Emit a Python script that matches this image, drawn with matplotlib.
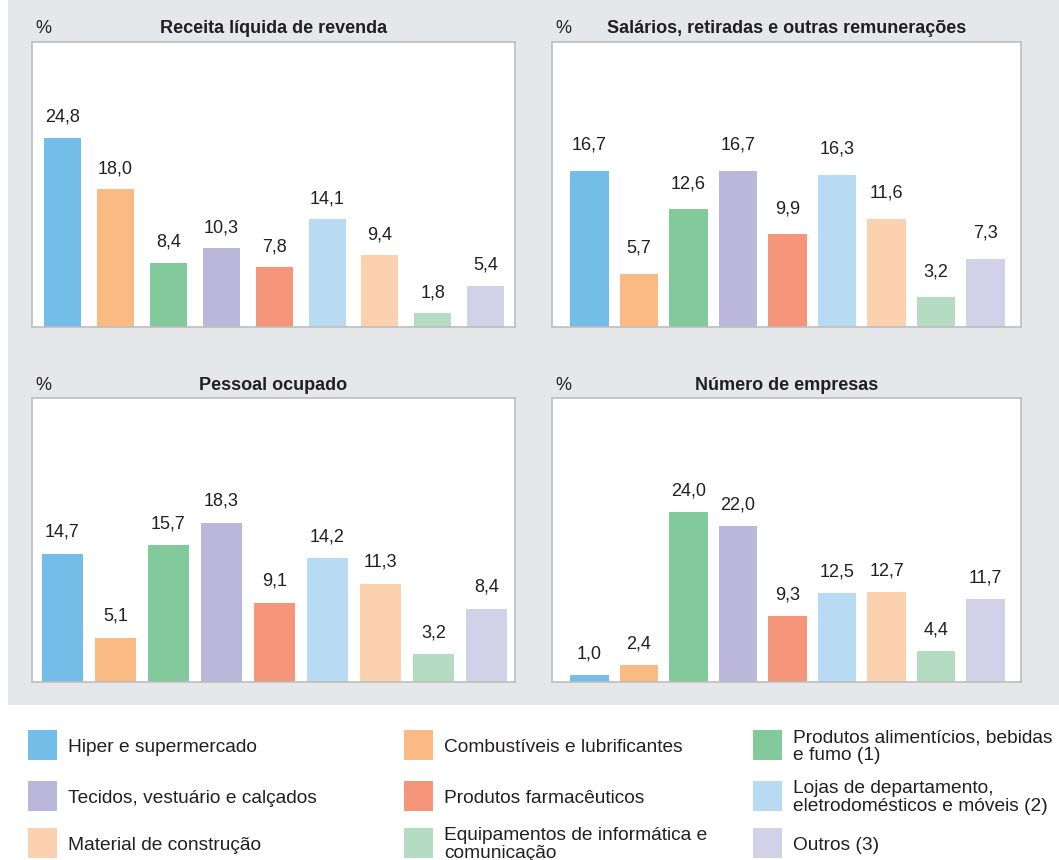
import matplotlib
matplotlib.use("Agg")
import matplotlib.pyplot as plt
from matplotlib.patches import Rectangle

plt.rcParams['font.family'] = ['Liberation Sans', 'DejaVu Sans']

# ---------------- data ----------------
categories = [
    "Hiper e supermercado",
    "Combustíveis e lubrificantes",
    "Produtos alimentícios, bebidas\ne fumo (1)",
    "Tecidos, vestuário e calçados",
    "Produtos farmacêuticos",
    "Lojas de departamento,\neletrodomésticos e móveis (2)",
    "Material de construção",
    "Equipamentos de informática e\ncomunicação",
    "Outros (3)",
]
colors = ["#74BDE8", "#F9BA84", "#82CA9C", "#BBB7DA", "#F5967A",
          "#B8DBF3", "#FBD1AF", "#B3DCC2", "#D3D1E8"]

titles = ["Receita líquida de revenda",
          "Salários, retiradas e outras remunerações",
          "Pessoal ocupado",
          "Número de empresas"]
receita = [24.8, 18.0, 8.4, 10.3, 7.8, 14.1, 9.4, 1.8, 5.4]
salarios = [16.7, 5.7, 12.6, 16.7, 9.9, 16.3, 11.6, 3.2, 7.3]
pessoal = [14.7, 5.1, 15.7, 18.3, 9.1, 14.2, 11.3, 3.2, 8.4]
empresas = [1.0, 2.4, 24.0, 22.0, 9.3, 12.5, 12.7, 4.4, 11.7]
series = [receita, salarios, pessoal, empresas]

# ---------------- layout ----------------
W, H = 1059, 860
TXT = "#231F20"
BG = "#E6E7E8"
SPINE = "#BCBEC0"

# pixel boxes (left, top, right, bottom)
boxes = [(32, 42, 515, 327), (552, 42, 1021, 327),
         (32, 398, 515, 682), (552, 398, 1021, 682)]
xlims = [(-0.577, 8.553), (-0.758, 8.717), (-0.575, 8.54), (-0.758, 8.717)]
ytops = [37.3, 30.5, 32.6, 40.0]
widths = [0.70, 0.78, 0.77, 0.78]
lab_off_px = [16, 21, 17, 16.5]
title_pad_px = [9, 9, 8, 8]

fig = plt.figure(figsize=(W / 100, H / 100), dpi=100)
fig.patch.set_facecolor("white")
bg = fig.add_axes([0, 0, 1, 1], zorder=-10)
bg.set_xlim(0, W)
bg.set_ylim(H, 0)
bg.axis("off")
bg.add_patch(Rectangle((8, 0), W - 8, 705, facecolor=BG, edgecolor="none"))

for k in range(4):
    l, t, r, b = boxes[k]
    ax = fig.add_axes([l / W, (H - b) / H, (r - l) / W, (b - t) / H], zorder=1)
    ax.set_facecolor("white")
    x = list(range(len(series[k])))
    ax.bar(x, series[k], width=widths[k], color=colors, linewidth=0)
    ax.set_xlim(*xlims[k])
    ax.set_ylim(0, ytops[k])
    ax.set_xticks([])
    ax.set_yticks([])
    for s in ax.spines.values():
        s.set_color(SPINE)
        s.set_linewidth(1.2)
    for xi, v in zip(x, series[k]):
        ax.annotate(f"{v:.1f}".replace(".", ","), (xi, v),
                    xytext=(0, lab_off_px[k] * 0.72), textcoords="offset points",
                    ha="center", va="baseline", fontsize=13, color=TXT)
    ax.annotate(titles[k], (0.5, 1.0), xycoords="axes fraction",
                xytext=(0, title_pad_px[k] * 0.72), textcoords="offset points",
                ha="center", va="baseline", fontsize=13, fontweight="bold",
                color=TXT, annotation_clip=False)
    ax.annotate("%", (0.0, 1.0), xycoords="axes fraction",
                xytext=(3 * 0.72, title_pad_px[k] * 0.72), textcoords="offset points",
                ha="left", va="baseline", fontsize=13, color=TXT,
                annotation_clip=False)

# ---------------- legend ----------------
lg = fig.add_axes([0, 0, 1, 1], zorder=5)
lg.set_xlim(0, W)
lg.set_ylim(H, 0)
lg.axis("off")
col_x = [28, 404, 753]
row_cy = [745, 796, 843]
sw_w, sw_h = 29, 30
fs_leg = 13.8
cap = 0.716 * fs_leg / 0.72
line_gap = 16.7
for i, name in enumerate(categories):
    r, c = divmod(i, 3)
    cx, cy = col_x[c], row_cy[r]
    lg.add_patch(Rectangle((cx, cy - sw_h / 2), sw_w, sw_h,
                           facecolor=colors[i], edgecolor="none"))
    nlines = name.count("\n") + 1
    base_last = cy + cap / 2 + (nlines - 1) * line_gap / 2
    lg.text(cx + 40, base_last, name, ha="left", va="baseline", fontsize=fs_leg,
            color=TXT, linespacing=1.07)

fig.savefig("out.png", dpi=100)
